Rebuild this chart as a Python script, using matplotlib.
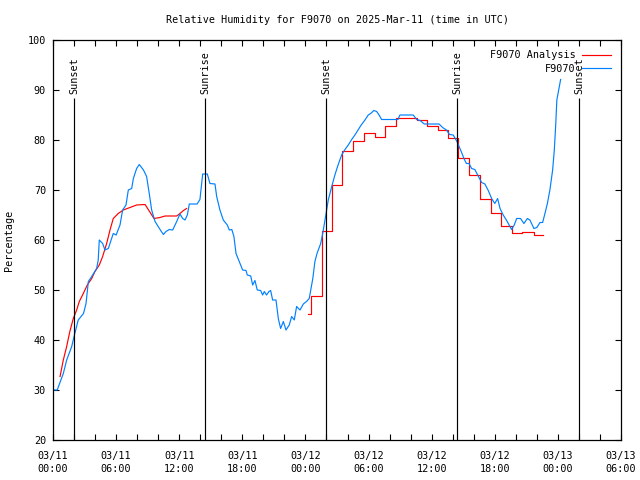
#!/usr/bin/env python3
"""Relative humidity for F9070: observations vs analysis, gnuplot-like look."""

import matplotlib
matplotlib.use("Agg")
import matplotlib.pyplot as plt
from matplotlib.ticker import MultipleLocator, FixedLocator

plt.rcParams["font.family"] = ["DejaVu Sans Mono"]
FS = 7.3

# hours since 03/11 00:00 UTC
obs_hours = [
    0.0, 0.4, 0.98, 1.3, 1.78, 2.0, 2.4, 2.9, 3.14, 3.36, 3.68, 4.15, 4.3, 4.4,
    4.72, 4.94, 5.26, 5.73, 6.0, 6.37, 6.62, 6.94, 7.16, 7.48, 7.64, 7.95, 8.2,
    8.6, 8.9, 9.15, 9.38, 9.7, 10.0, 10.3, 10.5, 10.74, 11.06, 11.38, 11.76,
    12.07, 12.33, 12.55, 12.77, 12.96, 13.7, 13.97, 14.13, 14.23, 14.67, 14.92,
    15.4, 15.56, 15.87, 16.19, 16.57, 16.76, 17.0, 17.2, 17.4, 17.71, 18.03,
    18.35, 18.47, 18.8, 18.98, 19.2, 19.42, 19.74, 19.93, 20.09, 20.3, 20.53,
    20.69, 20.88, 21.2, 21.42, 21.64, 21.9, 22.15, 22.46, 22.69, 22.94, 23.16,
    23.48, 23.8, 24.1, 24.36, 24.5, 24.7, 24.9, 25.1, 25.45, 25.64, 25.86,
    26.17, 26.5, 26.8, 27.1, 27.44, 27.76, 28.07, 28.4, 28.7, 29.0, 29.3,
    29.66, 29.97, 30.2, 30.5, 30.77, 31.0, 31.24, 32.8, 32.98, 34.25, 34.57,
    34.9, 35.3, 36.7, 37.04, 37.4, 37.7, 38.05, 38.4, 38.75, 39.07, 39.3,
    39.55, 39.8, 40.1, 40.43, 40.75, 41.06, 41.38, 41.7, 42.0, 42.27, 42.5,
    42.8, 43.1, 43.44, 43.6, 43.85, 44.08, 44.45, 44.77, 45.1, 45.34, 45.72,
    46.0, 46.3, 46.55, 46.77, 47.0, 47.24, 47.5, 47.66, 47.8, 47.9, 48.26,
]
obs_rh = [
    30, 30, 33.3, 36, 38.7, 40.7, 44, 45.3, 47.3, 51.7, 52.7, 54.3, 56, 60,
    59.3, 58, 58.3, 61.3, 61, 63, 66, 67, 70, 70.3, 72.3, 74.3, 75.1,
    74, 72.7, 69.3, 66, 63.7, 62.7, 61.7, 61.1, 61.7, 62.1, 62, 63.7,
    65.2, 64.3, 64, 65, 67.2, 67.2, 68.1, 71.3, 73.2, 73.2, 71.3,
    71.2, 68.7, 66, 64, 63, 62, 62.1, 60.7, 57.3, 55.7, 54,
    53.9, 53, 52.8, 51, 51.9, 50, 49.9, 49, 49.7, 49, 49.7,
    49.9, 48, 48, 44.3, 42.3, 43.7, 42, 43, 44.7, 44, 46.7,
    46, 47.2, 47.7, 48.3, 50, 52.3, 55.7, 57.3, 59.3, 61.3, 64,
    68, 70.7, 73, 75, 77, 78.1, 79, 80.1, 81, 82, 83,
    84, 85, 85.3, 85.9, 85.7, 85, 84.1, 84.1, 85, 85, 84.1,
    83.9, 83.2, 83.2, 82.5, 82, 81.1, 81, 79.7, 78, 76.3, 75.3,
    75.3, 74.3, 74.1, 72.8, 71.5, 71.2, 69.9, 68.3, 67.3, 68.3, 66.3,
    65, 64, 62.7, 62.1, 63, 64.3, 64.3, 63.3, 64.3, 64, 62.3,
    62.5, 63.5, 63.5, 65.3, 67.3, 70, 74, 78, 83.3, 88, 92.1,
]

# analysis, first day (smooth)
ana1_hours = [
    0.67, 0.98, 1.3, 1.6, 1.93, 2.25, 2.5, 2.88, 3.26, 3.68, 3.99, 4.4, 4.72,
    5.1, 5.42, 5.73, 6.2, 6.68, 7.32, 7.95, 8.75, 9.15, 9.6, 10.17, 10.65,
    11.76, 12.07, 12.4, 12.7,
]
ana1_rh = [
    32.7, 36, 38.7, 41.7, 44.3, 46, 47.7, 49.3, 51, 52.3, 53.7, 55, 56.7,
    59.3, 62, 64.3, 65.3, 66, 66.5, 67, 67.1, 65.8, 64.3, 64.5, 64.8,
    64.8, 65.3, 65.9, 66.3,
]

# analysis, second day (hourly steps)
ana2_hours = [
    24.27, 24.55, 25.55, 26.5, 27.5, 28.5, 29.6, 30.6, 31.6, 32.6, 34.6, 35.6,
    36.6, 37.6, 38.55, 39.55, 40.6, 41.6, 42.6, 43.6, 44.6, 45.7, 46.55,
]
ana2_rh = [
    45.3, 48.7, 61.7, 71.0, 77.7, 79.7, 81.3, 80.5, 82.8, 84.3, 84.0, 82.8,
    82.0, 80.3, 76.3, 73.0, 68.1, 65.3, 62.7, 61.3, 61.5, 61.0, 61.0,
]

event_hours = [2.0, 14.45, 25.95, 38.4, 50.0]
event_names = ["Sunset", "Sunrise", "Sunset", "Sunrise", "Sunset"]

tick_hours = [0, 6, 12, 18, 24, 30, 36, 42, 48, 54]
tick_labels = ["03/11\n00:00", "03/11\n06:00", "03/11\n12:00", "03/11\n18:00",
               "03/12\n00:00", "03/12\n06:00", "03/12\n12:00", "03/12\n18:00",
               "03/13\n00:00", "03/13\n06:00"]

RED = "#ff0000"
BLUE = "#0080ff"

fig = plt.figure(figsize=(6.4, 4.8), dpi=100)
ax = fig.add_axes([53 / 640, 40 / 480, 568 / 640, 400 / 480])

ax.plot(ana1_hours, ana1_rh, color=RED, lw=0.85, label="F9070 Analysis")
ax.plot(ana2_hours, ana2_rh, color=RED, lw=0.85, drawstyle="steps-post")
ax.plot(obs_hours, obs_rh, color=BLUE, lw=0.85, label="F9070")

ax.vlines(event_hours, 20, 88.4, color="black", lw=0.85)
for h, name in zip(event_hours, event_names):
    ax.text(h, 89.2, name, rotation=90, ha="center", va="bottom", fontsize=FS)

ax.set_xlim(0, 54)
ax.set_ylim(20, 100)
ax.xaxis.set_major_locator(FixedLocator(tick_hours))
ax.set_xticklabels(tick_labels, linespacing=1.35)
ax.xaxis.set_minor_locator(MultipleLocator(2))
ax.yaxis.set_major_locator(MultipleLocator(10))
ax.tick_params(which="both", direction="in", top=True, right=True,
               length=4, width=0.8, labelsize=FS)
ax.tick_params(axis="x", pad=8)
ax.tick_params(axis="y", pad=5)
for s in ax.spines.values():
    s.set_linewidth(0.9)

ax.set_title("Relative Humidity for F9070 on 2025-Mar-11 (time in UTC)",
             fontsize=FS, pad=12)
ax.set_ylabel("Percentage", fontsize=FS, labelpad=10)

ax.legend(loc="upper right", frameon=False, markerfirst=False, fontsize=FS,
          handlelength=2.8, handletextpad=0.7, labelspacing=0.35,
          borderaxespad=0.9, borderpad=0.1)

fig.savefig("out.png", dpi=100)
